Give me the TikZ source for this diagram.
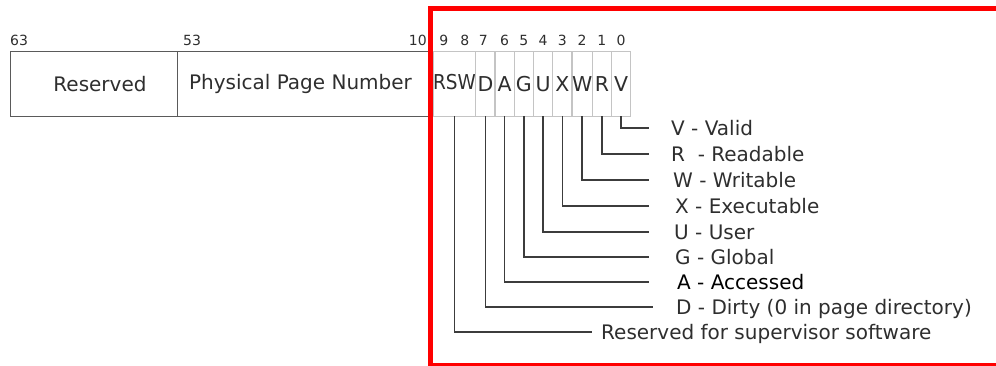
\documentclass[tikz,border=0pt]{standalone}
\usepackage{fontspec}
\setmainfont{DejaVu Sans}
\usepackage{xcolor}
\usetikzlibrary{positioning}

\definecolor{inkgray}{HTML}{2E2E2E}
\definecolor{boxgray}{HTML}{5A5A5A}
\definecolor{cellgray}{HTML}{C4C4C4}
\definecolor{leadgray}{HTML}{3C3C3C}

\begin{document}
\begin{tikzpicture}[
    x=1pt, y=-1pt,
    field/.style={draw=boxgray, line width=1pt, minimum height=64.5pt, inner sep=0pt, outer sep=0pt, text=inkgray, font=\fontsize{20}{24}\selectfont},
    flag/.style={draw=cellgray, line width=1.2pt, minimum width=19.25pt, minimum height=64.5pt, inner sep=0pt, outer sep=0pt, text=inkgray, font=\fontsize{20.5}{24}\selectfont},
    bitno/.style={inner sep=0pt, text height=9.5pt, text depth=0pt, text=inkgray, font=\fontsize{14}{16}\selectfont},
    desc/.style={anchor=west, inner sep=0pt, text height=14.6pt, text depth=0pt, text=inkgray, font=\fontsize{20}{24}\selectfont},
    leader/.style={draw=leadgray, line width=1.4pt},
    frame/.style={draw=red, line width=5pt}
]
\useasboundingbox (0,0) rectangle (996,365);

% the 64-bit entry
\node[field, minimum width=167pt] (reserved) at (93.5,84) {\hspace*{13pt}Reserved};
\node[field, minimum width=256pt, right=0pt of reserved] (ppn) {Physical Page Number\hspace*{9pt}};
\node[flag, minimum width=42pt, right=0pt of ppn] (rsw) {\raisebox{5pt}{\scalebox{0.9}[1]{RSW}}};
\node[flag, right=0pt of rsw] (bitD) {D};
\node[flag, right=0pt of bitD] (bitA) {A};
\node[flag, right=0pt of bitA] (bitG) {G};
\node[flag, right=0pt of bitG] (bitU) {U};
\node[flag, right=0pt of bitU] (bitX) {X};
\node[flag, right=0pt of bitX] (bitW) {W};
\node[flag, right=0pt of bitW] (bitR) {R};
\node[flag, right=0pt of bitR] (bitV) {V};

% bit positions
\node[bitno, above right=6pt and 0pt of reserved.north west] (n63) {63};
\node[bitno, above right=6pt and 6pt of ppn.north west] (n53) {53};
\node[bitno, above left=6pt and 6pt of ppn.north east] (n10) {10};
\node[bitno, above=6pt of rsw.north, xshift=-10.5pt] (n9) {9};
\node[bitno, above=6pt of rsw.north, xshift=10.5pt] (n8) {8};
\node[bitno, above=6pt of bitD, xshift=-2pt] (n7) {7};
\node[bitno, above=6pt of bitA] (n6) {6};
\node[bitno, above=6pt of bitG] (n5) {5};
\node[bitno, above=6pt of bitU] (n4) {4};
\node[bitno, above=6pt of bitX] (n3) {3};
\node[bitno, above=6pt of bitW] (n2) {2};
\node[bitno, above=6pt of bitR] (n1) {1};
\node[bitno, above=6pt of bitV] (n0) {0};

% flag descriptions
\node[desc] (descV) at (671,128) {V - Valid};
\node[desc] (descR) at (671,154) {R~ - Readable};
\node[desc] (descW) at (673,180) {W - Writable};
\node[desc] (descX) at (675,206) {X - Executable};
\node[desc] (descU) at (674,232) {U - User};
\node[desc] (descG) at (675,257) {G - Global};
\node[desc, text=black] (descA) at (677,282) {A - Accessed};
\node[desc] (descD) at (676,307) {D - Dirty (0 in page directory)};
\node[desc] (descRSW) at (601,332) {Reserved for supervisor software};

% leader lines
\coordinate (rail) at (649,0);
\coordinate (railD) at (653,0);
\coordinate (railRSW) at (592,0);
\draw[leader] (bitV.south) |- (descV.west -| rail);
\draw[leader] (bitR.south) |- (descR.west -| rail);
\draw[leader] (bitW.south) |- (descW.west -| rail);
\draw[leader] (bitX.south) |- (descX.west -| rail);
\draw[leader] (bitU.south) |- (descU.west -| rail);
\draw[leader] (bitG.south) |- (descG.west -| rail);
\draw[leader] (bitA.south) |- (descA.west -| rail);
\draw[leader] (bitD.south) |- (descD.west -| railD);
\draw[leader] (rsw.south) |- (descRSW.west -| railRSW);

% highlight
\draw[frame] (430,8.5) rectangle (1000,365);
\end{tikzpicture}
\end{document}
